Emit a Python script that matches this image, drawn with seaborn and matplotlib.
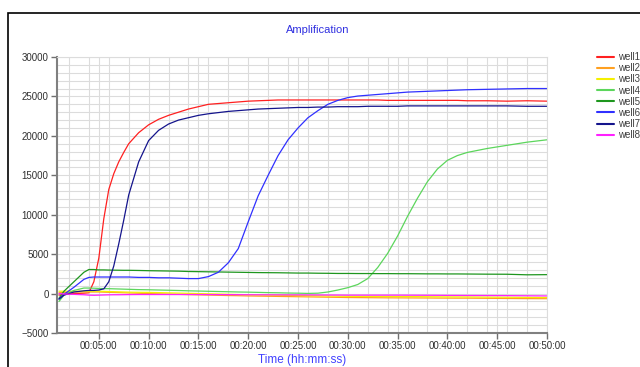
"""
Amplification curves (8 wells) - real-time fluorescence vs time.
"""

import matplotlib
matplotlib.use('Agg')
import matplotlib.pyplot as plt
from matplotlib.patches import Rectangle
from matplotlib.ticker import MultipleLocator, FuncFormatter
import numpy as np
import pandas as pd
import seaborn as sns

# time in minutes
time_min = [1.0, 1.5, 2.5, 3.5, 4.0, 4.5, 5.0, 5.5, 6.0, 6.5, 7.0, 7.5, 8.0,
            9, 10, 11, 12, 13, 14, 15, 16, 17, 18, 19, 20, 21, 22, 23, 24, 25,
            26, 27, 28, 29, 30, 31, 32, 33, 34, 35, 36, 37, 38, 39, 40, 41, 42,
            44, 46, 48, 50]

well1 = [-200, -100, 0, 50, 100, 1500, 4500, 9500, 13200, 15200, 16700, 17900, 19000,
         20400, 21400, 22100, 22600, 23000, 23400, 23700, 24000, 24100, 24200, 24300, 24400,
         24450, 24500, 24550, 24550, 24550, 24550, 24550, 24550, 24550, 24550, 24550, 24550,
         24550, 24500, 24500, 24500, 24500, 24500, 24500, 24500, 24500, 24450,
         24450, 24400, 24450, 24400]
well2 = [100, 150, 200, 200, 200, 200, 200, 180, 160, 140, 120, 100, 80,
         40, 0, -30, -60, -100, -130, -160, -190, -220, -250, -270, -300,
         -320, -340, -360, -380, -400, -420, -440, -460, -480, -500, -510, -520,
         -530, -540, -545, -550, -555, -560, -570, -575, -580, -580,
         -600, -620, -640, -650]
well3 = [300, 300, 300, 300, 300, 300, 300, 280, 260, 240, 220, 200, 180,
         160, 150, 120, 90, 60, 30, 0, -30, -60, -90, -120, -150,
         -170, -190, -210, -230, -250, -270, -290, -310, -330, -350, -355, -360,
         -365, -370, -380, -385, -390, -400, -410, -420, -425, -430,
         -450, -465, -480, -500]
well4 = [-1000, -200, 400, 700, 700, 680, 650, 630, 620, 600, 580, 560, 540,
         500, 480, 450, 420, 390, 350, 320, 290, 260, 230, 200, 180,
         150, 120, 100, 70, 50, 20, 50, 200, 450, 750, 1150, 1900,
         3300, 5100, 7300, 9800, 12100, 14200, 15800, 16900, 17500, 17900,
         18400, 18800, 19200, 19500]
well5 = [-600, 300, 1500, 2700, 3050, 3050, 3000, 3000, 2980, 2970, 2960, 2950, 2950,
         2930, 2900, 2880, 2860, 2840, 2800, 2780, 2760, 2740, 2720, 2700, 2680,
         2660, 2650, 2640, 2620, 2600, 2600, 2580, 2570, 2550, 2550, 2540, 2540,
         2530, 2530, 2520, 2520, 2510, 2500, 2500, 2490, 2490, 2480,
         2460, 2450, 2380, 2400]
well6 = [-700, -100, 800, 1800, 2050, 2100, 2100, 2100, 2100, 2100, 2100, 2100, 2100,
         2050, 2050, 2000, 2000, 1950, 1900, 1900, 2150, 2700, 3900, 5700, 9100,
         12400, 15000, 17500, 19500, 21000, 22300, 23200, 24000, 24500, 24850, 25050, 25150,
         25250, 25350, 25450, 25550, 25600, 25650, 25700, 25750, 25800, 25850,
         25900, 25950, 26000, 26000]
well7 = [-700, -200, 200, 350, 400, 400, 450, 600, 1500, 3500, 6300, 9300, 12500,
         16700, 19400, 20700, 21500, 22000, 22300, 22600, 22800, 22950, 23100, 23200, 23300,
         23400, 23450, 23500, 23550, 23600, 23600, 23650, 23650, 23700, 23700, 23700, 23750,
         23750, 23750, 23750, 23800, 23800, 23800, 23800, 23800, 23800, 23800,
         23800, 23800, 23750, 23750]
well8 = [0, -50, -100, -150, -200, -220, -200, -180, -160, -150, -150, -140, -130,
         -120, -120, -120, -120, -120, -120, -120, -125, -130, -135, -140, -150,
         -155, -160, -165, -170, -170, -175, -180, -185, -190, -200, -200, -200,
         -200, -200, -200, -205, -210, -215, -220, -230, -235, -240,
         -250, -260, -280, -300]

wells = ['well1', 'well2', 'well3', 'well4', 'well5', 'well6', 'well7', 'well8']
well_colors = ['#ff2020', '#ffa020', '#f5f000', '#5cd65c', '#1e961e', '#3030ff', '#14148c', '#ff20ff']


def fmt_hms(x, pos):
    total = int(round(x * 60))
    return f"{total // 3600:02d}:{(total % 3600) // 60:02d}:{total % 60:02d}"


def main():
    series = [well1, well2, well3, well4, well5, well6, well7, well8]
    df = pd.concat([
        pd.DataFrame({'time': time_min, 'value': vals, 'well': name})
        for name, vals in zip(wells, series)
    ], ignore_index=True)

    sns.set_style('white')
    plt.rcParams['font.family'] = ['Liberation Sans', 'DejaVu Sans']

    fig = plt.figure(figsize=(6.4, 3.67), dpi=100)
    ax = fig.add_axes([57 / 640, 1 - 333 / 367, (547 - 57) / 640, (333 - 57) / 367])

    sns.lineplot(data=df, x='time', y='value', hue='well', hue_order=wells,
                 palette=dict(zip(wells, well_colors)), linewidth=0.9, ax=ax, legend=True)

    ax.set_xlim(0.8, 50)
    ax.set_ylim(-5000, 30000)

    # 网格：x 每 2 分钟 + 每 5 分钟，y 每 1000
    ax.xaxis.set_major_locator(MultipleLocator(5))
    ax.xaxis.set_minor_locator(MultipleLocator(2))
    ax.yaxis.set_major_locator(MultipleLocator(5000))
    ax.yaxis.set_minor_locator(MultipleLocator(1000))
    ax.xaxis.set_major_formatter(FuncFormatter(fmt_hms))
    ax.grid(which='both', color='#dcdcdc', linewidth=0.8)
    ax.set_axisbelow(True)

    ax.tick_params(which='major', length=4, width=1, color='#707070',
                   labelsize=7, labelcolor='#303030', pad=2,
                   bottom=True, left=True)
    ax.tick_params(which='minor', length=0)

    for side in ['left', 'bottom']:
        ax.spines[side].set_color('#808080')
        ax.spines[side].set_linewidth(1.5)
    for side in ['top', 'right']:
        ax.spines[side].set_color('#dcdcdc')
        ax.spines[side].set_linewidth(0.8)

    ax.set_xlabel('Time (hh:mm:ss)', fontsize=8.5, color='#4040ff', labelpad=2)
    ax.set_ylabel('')

    fig.text(318 / 640, 1 - 30 / 367, 'Amplification', ha='center', va='center',
             fontsize=8, color='#3030e0')

    leg = ax.legend(loc='upper left', bbox_to_anchor=(597 / 640, 1 - 52 / 367),
                    bbox_transform=fig.transFigure, frameon=False, fontsize=7,
                    handlelength=1.75, handletextpad=0.4, labelspacing=0.12,
                    borderpad=0, borderaxespad=0)
    for line in leg.get_lines():
        line.set_linewidth(1.5)
    for t in leg.get_texts():
        t.set_color('#404040')

    # 外框
    fig.patches.append(Rectangle((8 / 640, -0.1), 1.1, 1 - 13 / 367 + 0.1,
                                 transform=fig.transFigure, fill=False,
                                 linewidth=1.2, edgecolor='black'))

    fig.savefig('out.png', dpi=100)
    plt.close(fig)


if __name__ == '__main__':
    main()
